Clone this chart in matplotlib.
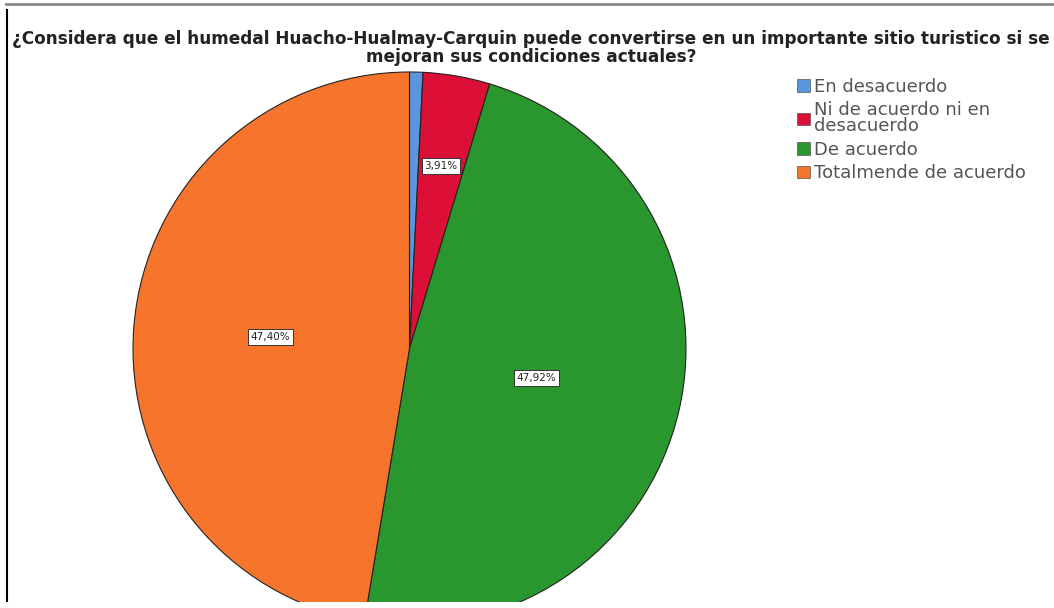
import matplotlib
matplotlib.use('Agg')
import matplotlib.pyplot as plt
import matplotlib.patches as mpatches
import numpy as np

# Data (counts read as shares of the pie)
categories = ['En desacuerdo', 'Ni de acuerdo ni en\ndesacuerdo', 'De acuerdo', 'Totalmende de acuerdo']
counts = [3, 15, 184, 182]
pct_labels = ['', '3,91%', '47,92%', '47,40%']
colors = ['#5a96de', '#dc1036', '#2a962e', '#f7742c']

title = ('¿Considera que el humedal Huacho-Hualmay-Carquin puede convertirse en un importante sitio turistico si se\n'
         'mejoran sus condiciones actuales?')

W, H = 1054, 608
fig = plt.figure(figsize=(W / 100, H / 100), dpi=100)
fig.patch.set_facecolor('white')

# Pie axes (square in pixels), circle partly below the picture
cx, cy, r = 409.5, 348.5, 276.5
ax = fig.add_axes([(cx - r) / W, (H - cy - r) / H, 2 * r / W, 2 * r / H])
wedges, _ = ax.pie(counts, colors=colors, startangle=90, counterclock=False,
                   radius=1.0, wedgeprops=dict(edgecolor='#222222', linewidth=0.8))
ax.set_xlim(-1, 1)
ax.set_ylim(-1, 1)
ax.axis('off')

# Percentage boxes
label_dist = [0.0, 0.67, 0.47, 0.505]
for w, lab, d in zip(wedges, pct_labels, label_dist):
    if not lab:
        continue
    ang = np.deg2rad((w.theta1 + w.theta2) / 2)
    ax.text(d * np.cos(ang), d * np.sin(ang), lab, ha='center', va='center',
            fontsize=7.5, color='#222222',
            bbox=dict(boxstyle='square,pad=0.25', facecolor='white', edgecolor='#333333', linewidth=0.7))

# Cropped bottom
fig.patches.append(mpatches.Rectangle((0, 0), 1, 6 / H, transform=fig.transFigure,
                                      facecolor='white', edgecolor='none', zorder=5))

# Title
fig.text(531 / W, 1 - 48 / H, title, ha='center', va='center', fontsize=12.2,
         fontweight='bold', color='#222222', linespacing=0.95)

# Legend
handles = [mpatches.Patch(facecolor=c, edgecolor='#555555', linewidth=0.5) for c in colors]
leg = fig.legend(handles, categories, loc='upper left', bbox_to_anchor=(797 / W, 1 - 78 / H),
                 frameon=False, fontsize=13, handlelength=0.7, handleheight=0.7,
                 handletextpad=0.25, labelspacing=0.3, borderpad=0, borderaxespad=0)
for t in leg.get_texts():
    t.set_color('#555555')
    t.set_linespacing(0.85)

# Frame lines of the output window
fig.add_artist(plt.Line2D([6 / W, 1], [1 - 4 / H, 1 - 4 / H], transform=fig.transFigure,
                          color='#888888', linewidth=2))
fig.add_artist(plt.Line2D([7 / W, 7 / W], [0, 1 - 10 / H], transform=fig.transFigure,
                          color='black', linewidth=1.5))

fig.savefig('out.png', dpi=100, facecolor='white')
